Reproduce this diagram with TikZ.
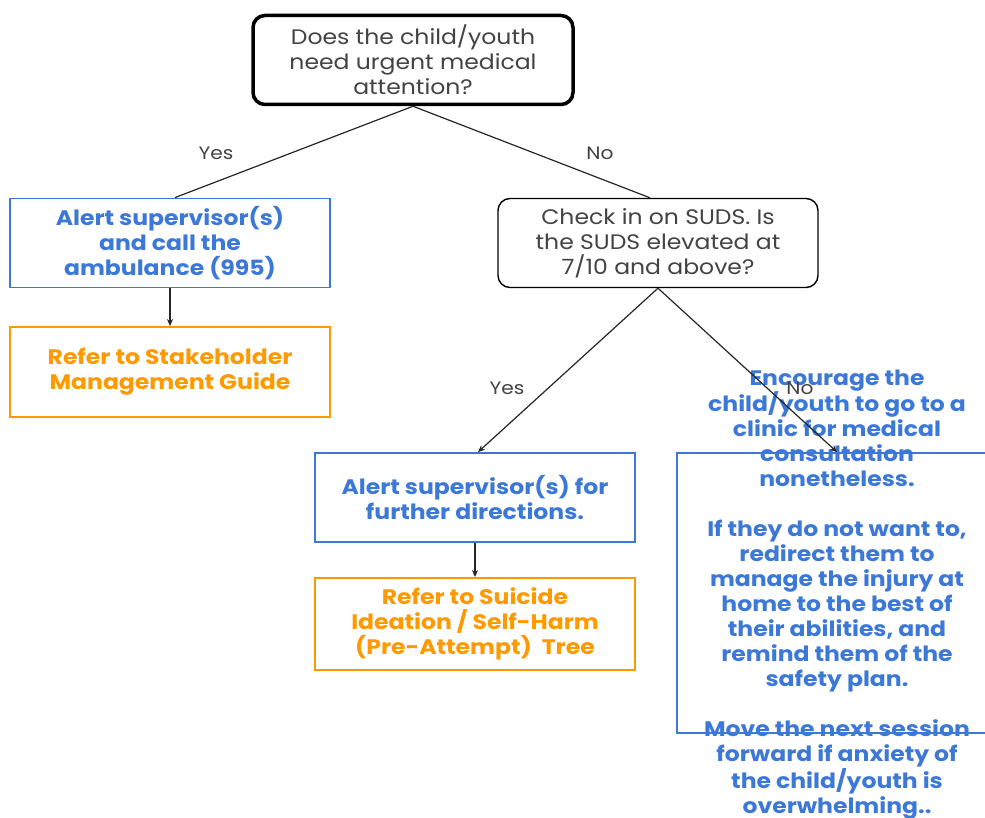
\documentclass[tikz,border=0pt]{standalone}
\usepackage{fontspec}
\setmainfont{Poppins}[FakeStretch=1.12]
\usetikzlibrary{arrows.meta}
\definecolor{txtgray}{HTML}{434343}
\definecolor{actblue}{HTML}{3C78D8}
\definecolor{refor}{HTML}{FF9900}
\tikzset{
  question/.style={draw=black, rounded corners=12pt, minimum width=320pt, minimum height=89pt,
    align=center, text=txtgray, font=\fontsize{21}{25}\selectfont, inner sep=0pt},
  actbox/.style={draw=actblue, line width=1.8pt, minimum width=320pt, minimum height=89pt,
    align=center, text=actblue, font=\fontsize{21}{25}\selectfont\bfseries, inner sep=0pt},
  refbox/.style={draw=refor, line width=1.8pt, minimum width=320pt, minimum height=90pt,
    align=center, text=refor, font=\fontsize{21}{25}\selectfont\bfseries, inner sep=0pt},
  link/.style={draw=black!85, line width=1.2pt},
  arrowlink/.style={link, -{Stealth[length=7pt,width=6pt]}},
  answer/.style={text=txtgray, font=\fontsize{18}{20}\selectfont, inner sep=0pt},
}
\begin{document}
\begin{tikzpicture}[x=1pt,y=-1pt]
\clip (0,0) rectangle (985,818);
\fill[white] (0,0) rectangle (985,818);

% first question
\node[question, line width=3.5pt] (q1) at (413,60) {Does the child/youth\\need urgent medical\\attention?};

% urgent branch
\node[actbox] (a1) at (170,243) {Alert supervisor(s)\\and call the\\ambulance (995)};
\node[refbox] (r1) at (170,372) {Refer to Stakeholder\\Management Guide};

% second question
\node[question, line width=1.4pt] (q2) at (658,243) {Check in on SUDS. Is\\the SUDS elevated at\\7/10 and above?};

% elevated SUDS
\node[actbox] (a2) at (475,497.5) {Alert supervisor(s) for\\further directions.};
\node[refbox, minimum height=92pt] (r2) at (475,624) {Refer to Suicide\\Ideation / Self-Harm\\(Pre-Attempt)\ \ Tree};

% SUDS below threshold
\node[draw=actblue, line width=1.8pt, minimum width=323pt, minimum height=280pt, inner sep=0pt] (n2box) at (838.5,593) {};
\node[align=center, text=actblue, font=\fontsize{21}{25}\selectfont\bfseries, inner sep=0pt] (n2text) at (837,594.5)
  {Encourage the\\child/youth to go to a\\clinic for medical\\consultation\\nonetheless.\\[25pt]
   If they do not want to,\\redirect them to\\manage the injury at\\home to the best of\\their abilities, and\\remind them of the\\safety plan.\\[25pt]
   Move the next session\\forward if anxiety of\\the child/youth is\\overwhelming..};

% connectors
\draw[link] (q1.south) -- ([xshift=5pt]a1.north);
\draw[link] (q1.south) -- ([xshift=-8pt]q2.north);
\draw[arrowlink] (a1.south) -- (r1.north);
\draw[arrowlink] (q2.south) -- ([xshift=3pt]a2.north);
\draw[arrowlink] (q2.south) -- ([xshift=-1.5pt]n2box.north);
\draw[arrowlink] (a2.south) -- (r2.north);

% answer labels
\node[answer] (y1) at (216,153) {Yes};
\node[answer] (no1) at (600,153) {No};
\node[answer] (y2) at (507,388) {Yes};
\node[answer] (no2) at (800,388) {No};
\end{tikzpicture}
\end{document}
